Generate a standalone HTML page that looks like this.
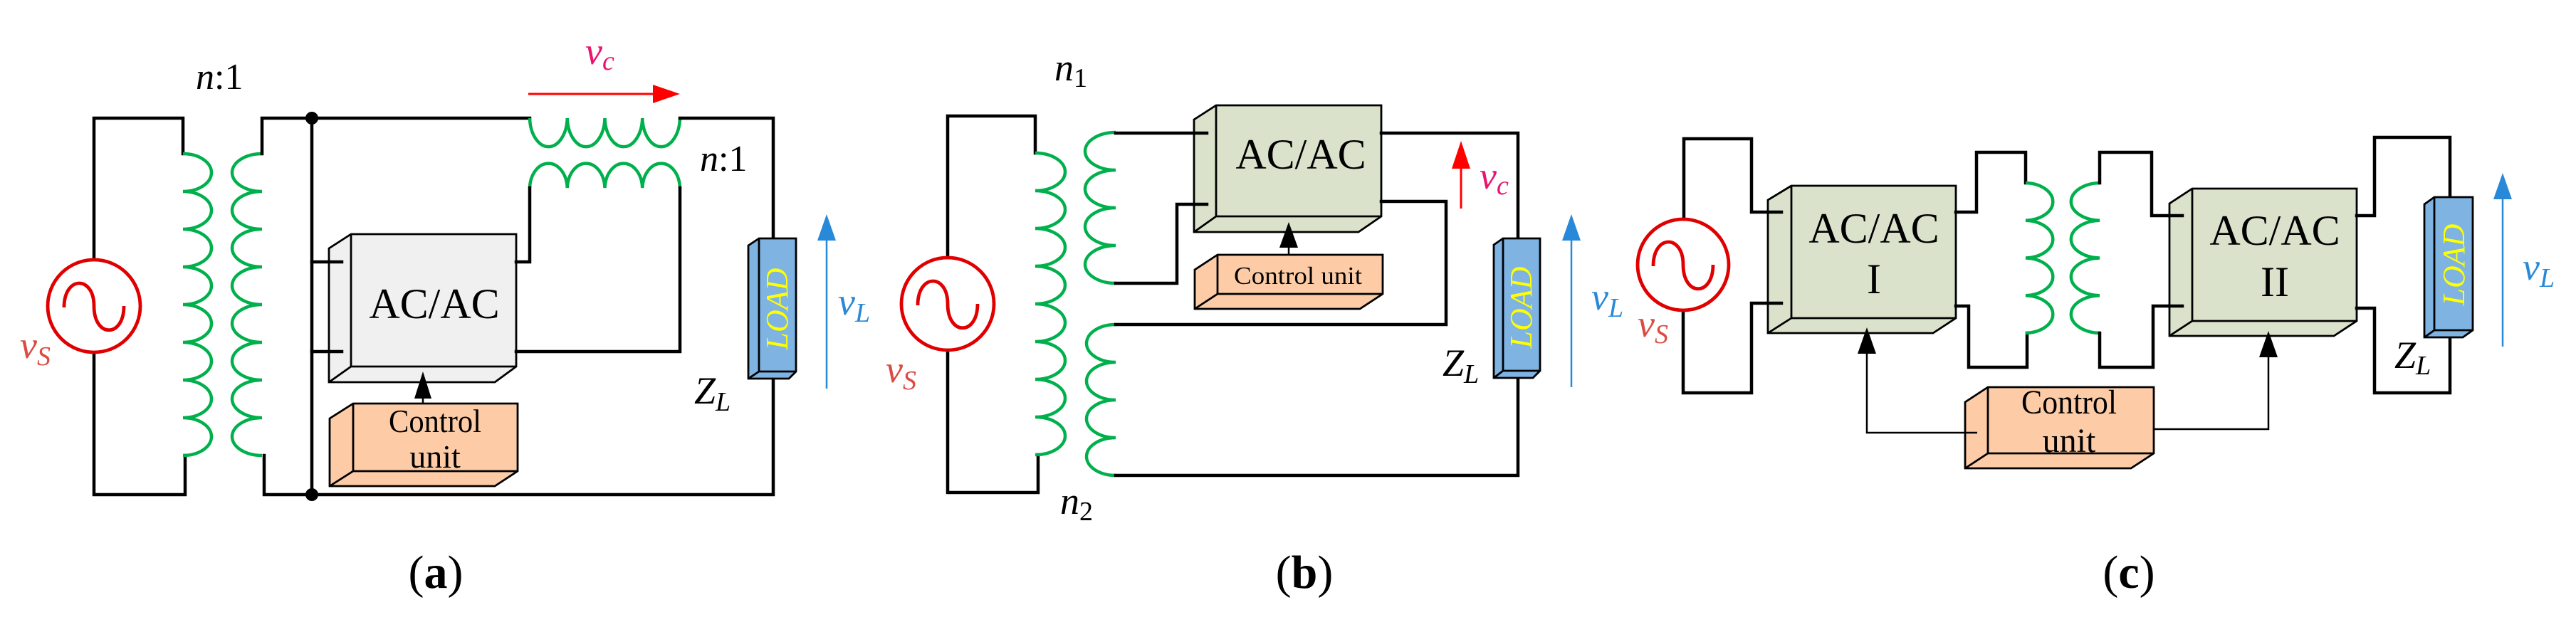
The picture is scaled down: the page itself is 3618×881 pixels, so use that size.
<!DOCTYPE html>
<html><head><meta charset="utf-8"><style>
html,body{margin:0;padding:0;background:#fff;}
svg{display:block;font-family:"Liberation Serif","DejaVu Serif",serif;}
svg text{font-family:"Liberation Serif","DejaVu Serif",serif;}
.w{fill:none;stroke:#000;stroke-width:4.5;stroke-linejoin:miter;stroke-linecap:square;}
.t{fill:none;stroke:#000;stroke-width:2.5;}
.c{fill:none;stroke:#00b04c;stroke-width:4.5;}
.bx{stroke:#000;stroke-width:2.8;stroke-linejoin:miter;}
.it{font-style:italic;}
</style></head><body>
<svg width="3618" height="881" viewBox="0 0 3618 881" xmlns="http://www.w3.org/2000/svg" font-family="Liberation Serif, serif">
<rect width="3618" height="881" fill="#fff"/>

<!-- ================= PANEL A ================= -->
<polyline class="w" points="132,364 132,166 257,166 257,216"/>
<polyline class="w" points="132,496 132,695 260,695 260,640"/>
<circle cx="132" cy="430" r="65" fill="none" stroke="#e00000" stroke-width="4.8"/>
<path d="M90,432 c0,-45 42,-45 42,-2 c0,45 42,45 42,0" fill="none" stroke="#e00000" stroke-width="4.8"/>
<path class="c" d="M257,216 a40,26.5 0 0 1 0,53 a40,26.5 0 0 1 0,53 a40,26.5 0 0 1 0,53 a40,26.5 0 0 1 0,53 a40,26.5 0 0 1 0,53 a40,26.5 0 0 1 0,53 a40,26.5 0 0 1 0,53 a40,26.5 0 0 1 0,53"/>
<path class="c" d="M368,216 a42,26.5 0 0 0 0,53 a42,26.5 0 0 0 0,53 a42,26.5 0 0 0 0,53 a42,26.5 0 0 0 0,53 a42,26.5 0 0 0 0,53 a42,26.5 0 0 0 0,53 a42,26.5 0 0 0 0,53 a42,26.5 0 0 0 0,53"/>
<polyline class="w" points="368,216 368,166 744,166"/>
<polyline class="w" points="371,640 371,695 1086,695 1086,532"/>
<line class="w" x1="438" y1="166" x2="438" y2="695"/>
<circle cx="438" cy="166" r="9" fill="#000"/>
<circle cx="438" cy="695" r="9" fill="#000"/>
<path class="c" d="M744,166 a26.4,42 0 0 0 52.75,0 a26.4,42 0 0 0 52.75,0 a26.4,42 0 0 0 52.75,0 a26.4,42 0 0 0 52.75,0"/>
<path class="c" d="M744,264 a26.4,36 0 0 1 52.75,0 a26.4,36 0 0 1 52.75,0 a26.4,36 0 0 1 52.75,0 a26.4,36 0 0 1 52.75,0"/>
<polyline class="w" points="955,166 1086,166 1086,335"/>
<polygon class="bx" fill="#f0f0f0" points="493,329 462,349 462,537 695,537 725,515 725,329"/>
<polyline class="bx" fill="none" points="462,537 493,515 725,515"/>
<line class="bx" x1="493" y1="329" x2="493" y2="515"/>
<text x="610" y="447" font-size="60" text-anchor="middle">AC/AC</text>
<polyline class="w" points="438,368 480,368"/>
<polyline class="w" points="438,494 480,494"/>
<polyline class="w" points="725,368 744,368 744,264"/>
<polyline class="w" points="725,494 955,494 955,264"/>
<polygon class="bx" fill="#fdcca6" points="496,567 463,588 463,683 695,683 727,662 727,567"/>
<polyline class="bx" fill="none" points="463,683 496,662 727,662"/>
<line class="bx" x1="496" y1="567" x2="496" y2="662"/>
<text x="611" y="607" font-size="46" text-anchor="middle" textLength="130" lengthAdjust="spacingAndGlyphs">Control</text>
<text x="611" y="657" font-size="46" text-anchor="middle">unit</text>
<line class="t" x1="594" y1="567" x2="594" y2="550"/>
<polygon points="594,522 582,560 606,560" fill="#000"/>
<polygon class="bx" fill="#7eb3e2" points="1066,335 1051,345 1051,532 1108,532 1118,522 1118,335"/>
<polyline class="bx" fill="none" points="1051,532 1066,522 1118,522"/>
<line class="bx" x1="1066" y1="335" x2="1066" y2="522"/>
<text transform="translate(1106,434) rotate(-90)" font-size="44" fill="#ffff00" class="it" text-anchor="middle">LOAD</text>
<line x1="1161" y1="546" x2="1161" y2="330" stroke="#2889d8" stroke-width="2.5"/>
<polygon points="1161,301 1148,338 1174,338" fill="#2889d8"/>
<line x1="742" y1="132" x2="925" y2="132" stroke="#ff0000" stroke-width="3"/>
<polygon points="955,132 917,119 917,145" fill="#ff0000"/>
<text x="275" y="125" font-size="52"><tspan class="it">n</tspan>:1</text>
<text x="983" y="240" font-size="52"><tspan class="it">n</tspan>:1</text>
<text x="822" y="90" font-size="54" fill="#e8146e" class="it">v<tspan font-size="38" dy="8">c</tspan></text>
<text x="28" y="503" font-size="54" fill="#dc4a44" class="it">v<tspan font-size="38" dy="10">S</tspan></text>
<text x="975" y="567" font-size="54" class="it">Z<tspan font-size="38" dy="10">L</tspan></text>
<text x="1177" y="442" font-size="54" fill="#2889d8" class="it">v<tspan font-size="38" dy="10">L</tspan></text>
<text x="612" y="826" font-size="66" text-anchor="middle">(<tspan font-weight="bold">a</tspan>)</text>

<!-- ================= PANEL B ================= -->
<polyline class="w" points="1331,362 1331,163 1454,163 1454,215"/>
<polyline class="w" points="1331,492 1331,692 1458,692 1458,639"/>
<circle cx="1331" cy="427" r="65" fill="none" stroke="#e00000" stroke-width="4.8"/>
<path d="M1289,429 c0,-45 42,-45 42,-2 c0,45 42,45 42,0" fill="none" stroke="#e00000" stroke-width="4.8"/>
<path class="c" d="M1454,215 a42,26.5 0 0 1 0,53 a42,26.5 0 0 1 0,53 a42,26.5 0 0 1 0,53 a42,26.5 0 0 1 0,53 a42,26.5 0 0 1 0,53 a42,26.5 0 0 1 0,53 a42,26.5 0 0 1 0,53 a42,26.5 0 0 1 0,53"/>
<path class="c" d="M1567,186 a43,26.5 0 0 0 0,53 a43,26.5 0 0 0 0,53 a43,26.5 0 0 0 0,53 a43,26.5 0 0 0 0,53"/>
<path class="c" d="M1567,456 a41,26.5 0 0 0 0,53 a41,26.5 0 0 0 0,53 a41,26.5 0 0 0 0,53 a41,26.5 0 0 0 0,53"/>
<polygon class="bx" fill="#dbe2cb" points="1708,148 1677,168 1677,326 1908,326 1940,304 1940,148"/>
<polyline class="bx" fill="none" points="1677,326 1708,304 1940,304"/>
<line class="bx" x1="1708" y1="148" x2="1708" y2="304"/>
<text x="1827" y="237" font-size="60" text-anchor="middle">AC/AC</text>
<polyline class="w" points="1567,187 1695,187"/>
<polyline class="w" points="1567,398 1653,398 1653,287 1695,287"/>
<polyline class="w" points="1940,187 2132,187 2132,335"/>
<polyline class="w" points="1940,283 2031,283 2031,456 1567,456"/>
<polyline class="w" points="1567,668 2132,668 2132,531"/>
<polygon class="bx" fill="#fdcca6" points="1710,358 1678,379 1678,434 1910,434 1942,413 1942,358"/>
<polyline class="bx" fill="none" points="1678,434 1710,413 1942,413"/>
<line class="bx" x1="1710" y1="358" x2="1710" y2="413"/>
<text x="1823" y="399" font-size="35" text-anchor="middle" textLength="180" lengthAdjust="spacingAndGlyphs">Control unit</text>
<line class="t" x1="1810" y1="358" x2="1810" y2="340"/>
<polygon points="1810,312 1797,348 1823,348" fill="#000"/>
<polygon class="bx" fill="#7eb3e2" points="2111,335 2098,344 2098,531 2153,531 2163,521 2163,335"/>
<polyline class="bx" fill="none" points="2098,531 2111,521 2163,521"/>
<line class="bx" x1="2111" y1="335" x2="2111" y2="521"/>
<text transform="translate(2151,432) rotate(-90)" font-size="44" fill="#ffff00" class="it" text-anchor="middle">LOAD</text>
<line x1="2052" y1="293" x2="2052" y2="230" stroke="#ff0000" stroke-width="3"/>
<polygon points="2052,198 2039,237 2065,237" fill="#ff0000"/>
<line x1="2207" y1="544" x2="2207" y2="330" stroke="#2889d8" stroke-width="2.5"/>
<polygon points="2207,301 2194,338 2220,338" fill="#2889d8"/>
<text x="1481" y="113" font-size="54" class="it">n<tspan font-size="38" dy="9" font-style="normal">1</tspan></text>
<text x="1489" y="722" font-size="54" class="it">n<tspan font-size="38" dy="9" font-style="normal">2</tspan></text>
<text x="2078" y="265" font-size="54" fill="#e8146e" class="it">v<tspan font-size="38" dy="8">c</tspan></text>
<text x="1244" y="537" font-size="54" fill="#dc4a44" class="it">v<tspan font-size="38" dy="10">S</tspan></text>
<text x="2026" y="528" font-size="54" class="it">Z<tspan font-size="38" dy="10">L</tspan></text>
<text x="2235" y="435" font-size="54" fill="#2889d8" class="it">v<tspan font-size="38" dy="10">L</tspan></text>
<text x="1832" y="826" font-size="66" text-anchor="middle">(<tspan font-weight="bold">b</tspan>)</text>

<!-- ================= PANEL C ================= -->
<polyline class="w" points="2365,308 2365,195 2460,195 2460,298 2502,298"/>
<polyline class="w" points="2364,436 2364,552 2460,552 2460,426 2502,426"/>
<circle cx="2364" cy="372" r="64" fill="none" stroke="#e00000" stroke-width="4.8"/>
<path d="M2322,374 c0,-45 42,-45 42,-2 c0,45 42,45 42,0" fill="none" stroke="#e00000" stroke-width="4.8"/>
<polygon class="bx" fill="#dbe2cb" points="2516,261 2483,281 2483,468 2715,468 2747,447 2747,261"/>
<polyline class="bx" fill="none" points="2483,468 2516,447 2747,447"/>
<line class="bx" x1="2516" y1="261" x2="2516" y2="447"/>
<polyline class="w" points="2483,298 2502,298"/>
<polyline class="w" points="2483,426 2502,426"/>
<text x="2632" y="341" font-size="60" text-anchor="middle">AC/AC</text>
<text x="2632" y="412" font-size="60" text-anchor="middle">I</text>
<polyline class="w" points="2747,298 2776,298 2776,214 2845,214 2845,257"/>
<polyline class="w" points="2747,430 2765,430 2765,516 2847,516 2847,468"/>
<path class="c" d="M2845,257 a40,26.4 0 0 1 0,52.75 a40,26.4 0 0 1 0,52.75 a40,26.4 0 0 1 0,52.75 a40,26.4 0 0 1 0,52.75"/>
<path class="c" d="M2949,257 a42,26.4 0 0 0 0,52.75 a42,26.4 0 0 0 0,52.75 a42,26.4 0 0 0 0,52.75 a42,26.4 0 0 0 0,52.75"/>
<polyline class="w" points="2949,257 2949,214 3022,214 3022,303 3065,303"/>
<polyline class="w" points="2949,468 2949,516 3024,516 3024,430 3065,430"/>
<polygon class="bx" fill="#dbe2cb" points="3079,265 3047,286 3047,472 3278,472 3310,451 3310,265"/>
<polyline class="bx" fill="none" points="3047,472 3079,451 3310,451"/>
<line class="bx" x1="3079" y1="265" x2="3079" y2="451"/>
<polyline class="w" points="3047,303 3065,303"/>
<polyline class="w" points="3047,430 3065,430"/>
<text x="3195" y="344" font-size="60" text-anchor="middle">AC/AC</text>
<text x="3195" y="416" font-size="60" text-anchor="middle">II</text>
<polyline class="w" points="3310,303 3335,303 3335,193 3441,193 3441,277"/>
<polyline class="w" points="3310,433 3335,433 3335,552 3441,552 3441,474"/>
<polygon class="bx" fill="#7eb3e2" points="3419,277 3405,287 3405,474 3459,474 3473,464 3473,277"/>
<polyline class="bx" fill="none" points="3405,474 3419,464 3473,464"/>
<line class="bx" x1="3419" y1="277" x2="3419" y2="464"/>
<text transform="translate(3461,372) rotate(-90)" font-size="44" fill="#ffff00" class="it" text-anchor="middle">LOAD</text>
<line x1="3515" y1="487" x2="3515" y2="270" stroke="#2889d8" stroke-width="2.5"/>
<polygon points="3515,243 3502,280 3528,280" fill="#2889d8"/>
<polygon class="bx" fill="#fdcca6" points="2792,544 2760,565 2760,658 2993,658 3025,637 3025,544"/>
<polyline class="bx" fill="none" points="2760,658 2792,637 3025,637"/>
<line class="bx" x1="2792" y1="544" x2="2792" y2="637"/>
<text x="2906" y="581" font-size="48" text-anchor="middle" textLength="134" lengthAdjust="spacingAndGlyphs">Control</text>
<text x="2906" y="635" font-size="48" text-anchor="middle">unit</text>
<polyline class="t" points="2777,608 2622,608 2622,490"/>
<polygon points="2622,460 2609,497 2635,497" fill="#000"/>
<polyline class="t" points="3025,603 3186,603 3186,495"/>
<polygon points="3186,465 3173,502 3199,502" fill="#000"/>
<text x="2300" y="473" font-size="54" fill="#dc4a44" class="it">v<tspan font-size="38" dy="9">S</tspan></text>
<text x="3363" y="517" font-size="54" class="it">Z<tspan font-size="38" dy="9">L</tspan></text>
<text x="3543" y="393" font-size="54" fill="#2889d8" class="it">v<tspan font-size="38" dy="10">L</tspan></text>
<text x="2990" y="826" font-size="66" text-anchor="middle">(<tspan font-weight="bold">c</tspan>)</text>
</svg>
</body></html>
